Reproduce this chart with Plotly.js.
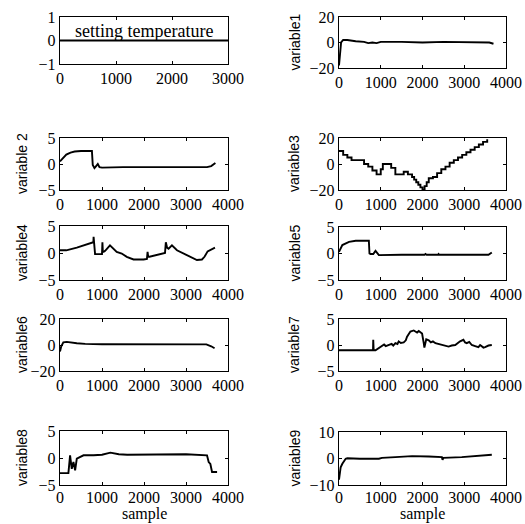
<!DOCTYPE html>
<html>
<head>
<meta charset="utf-8">
<script src="https://cdn.plot.ly/plotly-3.0.1.min.js"></script>
<style>html,body{margin:0;padding:0;background:#fff;}#chart{width:525px;height:524px;}</style>
</head>
<body>
<div id="chart"></div>
<script>
// ---- data ----
const tempX = [0, 3000, 3700];
const tempY = [0, 0, 0];

const v1X = [0, 20, 50, 100, 200, 400, 600, 700, 800, 900, 1000, 1500, 2000, 2500, 3000, 3500, 3600, 3700];
const v1Y = [-18, -8, 0, 2, 2, 1, 0.5, -0.5, 0, -0.5, 0.5, 0.5, 0, 0.5, 0.5, 0.5, 0, -1];

const v2X = [0, 50, 150, 250, 350, 500, 700, 760, 780, 820, 860, 900, 940, 1000, 1500, 2000, 2400, 2500, 3000, 3500, 3600, 3700];
const v2Y = [0.5, 1.0, 1.8, 2.2, 2.4, 2.5, 2.5, 2.5, -0.2, -0.8, -0.4, 0.0, -0.6, -0.7, -0.6, -0.6, -0.5, -0.6, -0.6, -0.6, -0.4, 0.2];

const v3X = [0, 100, 200, 300, 450, 600, 700, 800, 900, 1000, 1050, 1150, 1250, 1350, 1550, 1650, 1750, 1800, 1850, 1900, 1950, 2000, 2050, 2100, 2150, 2250, 2350, 2450, 2550, 2650, 2750, 2850, 2950, 3050, 3150, 3250, 3350, 3450, 3550];
const v3Y = [10, 7, 5, 3, 3, 0, -2, -5, -8, -4, 0, 0, -3, -8, -6, -8, -10, -12, -14, -16, -18, -20, -17, -14, -11, -10, -7, -4, -2, 1, 3, 5, 7, 9, 11, 13, 15, 17, 19];

const v4X = [0, 150, 400, 600, 750, 795, 800, 835, 1000, 1010, 1020, 1040, 1075, 1190, 1350, 1470, 1590, 1750, 1990, 2070, 2085, 2100, 2130, 2305, 2465, 2500, 2520, 2550, 2585, 2665, 2785, 2945, 3100, 3260, 3380, 3440, 3515, 3570, 3690];
const v4Y = [0.5, 0.5, 1.0, 1.5, 2.0, 2.0, 3.0, -0.2, -0.2, 2.0, 0.2, 0.2, 0.4, 1.4, 0.2, -0.1, -0.7, -1.2, -1.2, -1.1, 0.2, -0.7, -0.7, -0.4, -0.1, 0.0, 2.0, 1.0, 0.8, 1.4, 0.5, -0.1, -0.7, -1.3, -1.2, -0.7, 0.3, 0.5, 1.0];

const v5X = [0, 30, 80, 240, 400, 715, 730, 755, 820, 875, 955, 1500, 2050, 2070, 2100, 2370, 2385, 2400, 3000, 3580, 3660];
const v5Y = [0.3, 0.8, 1.6, 2.2, 2.4, 2.4, 0.0, -0.1, -0.1, 0.5, -0.3, -0.25, -0.25, -0.1, -0.25, -0.25, -0.1, -0.25, -0.25, -0.25, 0.2];

const v6X = [0, 30, 80, 160, 400, 600, 1000, 2000, 3000, 3485, 3600, 3680];
const v6Y = [-5, -1, 2, 2.4, 1.4, 0.9, 0.6, 0.6, 0.5, 0.5, -1.0, -2.5];

const v7X = [0, 400, 815, 820, 830, 875, 955, 1000, 1030, 1080, 1120, 1190, 1260, 1300, 1350, 1400, 1430, 1480, 1550, 1600, 1630, 1710, 1790, 1830, 1870, 1910, 1950, 1990, 2030, 2045, 2090, 2150, 2200, 2250, 2310, 2380, 2465, 2540, 2625, 2700, 2785, 2900, 2980, 3020, 3060, 3120, 3180, 3260, 3340, 3380, 3420, 3460, 3500, 3580, 3660];
const v7Y = [-1, -1, -1, 1.0, -1, -1, -0.6, -0.3, -0.1, 0.1, -0.2, 0.0, 0.2, -0.1, 0.35, 0.2, 0.7, 0.4, 0.5, 0.9, 1.6, 2.6, 2.8, 2.6, 2.4, 2.7, 2.5, 2.2, 0.35, -0.5, 1.1, 0.9, 0.5, 0.7, 0.35, 0.2, 0.0, -0.2, -0.3, -0.1, 0.0, 0.7, 1.0, 0.5, 0.35, 0.6, 0.0, -0.2, -0.4, 0.0, -0.2, -0.5, -0.4, -0.1, 0.0];

const v8X = [0, 200, 240, 280, 320, 360, 400, 480, 560, 800, 1000, 1200, 1400, 1600, 2000, 2500, 3000, 3500, 3540, 3580, 3620, 3740];
const v8Y = [-2.8, -2.8, 0.5, -2.0, -0.75, -2.3, -0.1, 0.2, 0.5, 0.5, 0.6, 1.0, 0.7, 0.6, 0.6, 0.6, 0.7, 0.5, -0.75, -1.1, -2.6, -2.6];

const v9X = [0, 40, 80, 160, 200, 500, 955, 1030, 1350, 1750, 2150, 2465, 2480, 2500, 2940, 3340, 3660];
const v9Y = [-8, -3.3, -2, -0.1, 0.1, -0.1, -0.1, 0.25, 0.5, 0.9, 0.75, 0.5, -0.5, 0.25, 0.5, 0.9, 1.4];

const yTitles = ["", "variable1", "variable 2", "variable3", "variable4", "variable5", "variable6", "variable7", "variable8", "variable9"];
const yLimits = [1, 20, 5, 20, 5, 5, 20, 5, 5, 10];
const xMaxes = [3000, 4000, 4000, 4000, 4000, 4000, 4000, 4000, 4000, 4000];
const xTitle = "sample";
const panelText = "setting temperature";

const seriesX = [tempX, v1X, v2X, v3X, v4X, v5X, v6X, v7X, v8X, v9X];
const seriesY = [tempY, v1Y, v2Y, v3Y, v4Y, v5Y, v6Y, v7Y, v8Y, v9Y];
const shapes = ["linear", "linear", "linear", "hv", "linear", "linear", "linear", "linear", "linear", "linear"];

// ---- layout (pixel boxes) ----
const W = 525, H = 524;
const colX = [[60, 228], [339, 506]];
const titleCx = [22, 294];
const boxes = [
  [colX[0], [17, 64]], [colX[1], [17, 68]],
  [colX[0], [138, 190]], [colX[1], [138, 190]],
  [colX[0], [226, 280]], [colX[1], [227, 280]],
  [colX[0], [319, 371]], [colX[1], [319, 371]],
  [colX[0], [431, 485]], [colX[1], [432, 485]]
];

const serif = "Liberation Serif, Times New Roman, serif";
const sans = "Liberation Sans, Arial, sans-serif";

const traces = [];
const layout = {
  width: W, height: H,
  margin: {l: 0, r: 0, t: 0, b: 0},
  paper_bgcolor: "#fff", plot_bgcolor: "#fff",
  showlegend: false,
  annotations: []
};

for (let i = 0; i < 10; i++) {
  const n = i === 0 ? "" : String(i + 1);
  traces.push({
    x: seriesX[i], y: seriesY[i],
    xaxis: "x" + n, yaxis: "y" + n,
    type: "scatter", mode: "lines",
    line: {color: "#000", width: 1.9, shape: shapes[i]},
    hoverinfo: "skip"
  });
  const b = boxes[i];
  const lim = yLimits[i];
  const xa = {
    domain: [b[0][0] / W, b[0][1] / W],
    range: [0, xMaxes[i]],
    tickvals: xMaxes[i] === 3000 ? [0, 1000, 2000, 3000] : [0, 1000, 2000, 3000, 4000],
    ticks: "inside", ticklen: 3, tickwidth: 1, tickcolor: "#000",
    showline: true, linecolor: "#000", linewidth: 1.2, mirror: "ticks",
    showgrid: false, zeroline: false,
    tickfont: {family: serif, size: 16, color: "#000"},
    anchor: "y" + n, fixedrange: true
  };
  if (i >= 8) xa.ticklabelstandoff = -2;
  const ya = {
    domain: [1 - b[1][1] / H, 1 - b[1][0] / H],
    range: [-lim, lim],
    tickvals: [-lim, 0, lim],
    ticks: "inside", ticklen: 3, tickwidth: 1, tickcolor: "#000",
    showline: true, linecolor: "#000", linewidth: 1.2, mirror: "ticks",
    showgrid: false, zeroline: false,
    tickfont: {family: serif, size: 16, color: "#000"},
    anchor: "x" + n, fixedrange: true
  };
  layout["xaxis" + n] = xa;
  layout["yaxis" + n] = ya;
  if (yTitles[i]) {
    layout.annotations.push({
      text: yTitles[i], textangle: -90,
      xref: "paper", yref: "paper",
      x: titleCx[i % 2] / W, y: 1 - (b[1][0] + b[1][1]) / 2 / H,
      xanchor: "center", yanchor: "middle", showarrow: false,
      font: {family: sans, size: 14, color: "#000"}
    });
  }
  if (i >= 8) {
    layout.annotations.push({
      text: xTitle,
      xref: "paper", yref: "paper",
      x: (b[0][0] + b[0][1]) / 2 / W, y: 0,
      xanchor: "center", yanchor: "bottom", showarrow: false,
      borderpad: 0,
      font: {family: serif, size: 16, color: "#000"}
    });
  }
}

layout.annotations.push({
  text: panelText,
  xref: "x domain", yref: "y domain",
  x: 0.5, y: 0.70, xanchor: "center", yanchor: "middle",
  showarrow: false,
  font: {family: serif, size: 18, color: "#000"}
});

Plotly.newPlot("chart", traces, layout, {staticPlot: true, displayModeBar: false});
</script>
</body>
</html>
